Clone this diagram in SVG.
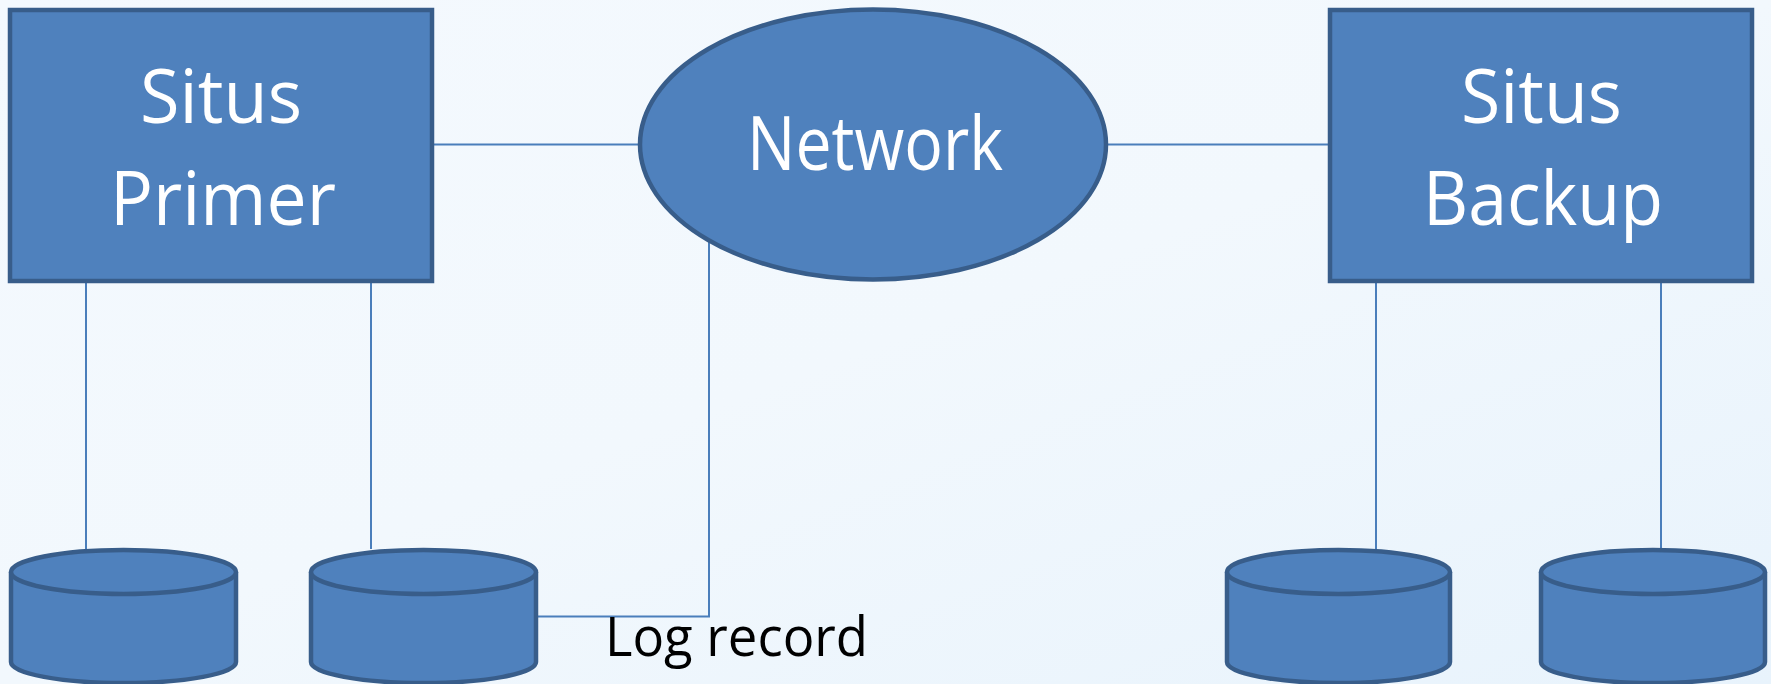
<svg xmlns="http://www.w3.org/2000/svg" width="1771" height="684" viewBox="0 0 1771 684">
  <defs>
    <linearGradient id="bg" x1="0" y1="0" x2="1" y2="1">
      <stop offset="0" stop-color="#f4f9fe"/>
      <stop offset="0.5" stop-color="#f2f8fd"/>
      <stop offset="1" stop-color="#e8f3fc"/>
    </linearGradient>
    <style>
      .shape { fill: #4f81bd; stroke: #385d8a; stroke-width: 4.5; }
      .conn { fill: none; stroke: #4a7ebb; stroke-width: 2; }
      .lbl { font-family: "Open Sans", "Liberation Sans", sans-serif; fill: #ffffff; font-size: 75px; text-anchor: middle; }
      .cap { font-family: "Open Sans", "Liberation Sans", sans-serif; fill: #000000; font-size: 55px; }
    </style>
  </defs>
  <rect x="0" y="0" width="1771" height="684" fill="url(#bg)"/>

  <g id="connectors">
    <line class="conn" x1="432" y1="144.5" x2="641" y2="144.5"/>
    <line class="conn" x1="1105" y1="144.5" x2="1329" y2="144.5"/>
    <line class="conn" x1="86" y1="281" x2="86" y2="549"/>
    <line class="conn" x1="371" y1="281" x2="371" y2="549"/>
    <line class="conn" x1="1376" y1="281" x2="1376" y2="549"/>
    <line class="conn" x1="1661" y1="281" x2="1661" y2="549"/>
    <polyline class="conn" points="709,240 709,616.5 538,616.5"/>
  </g>

  <g id="situs-primer">
    <rect class="shape" x="10" y="10" width="422" height="271"/>
    <text class="lbl" x="221" y="123" textLength="162" lengthAdjust="spacingAndGlyphs">Situs</text>
    <text class="lbl" x="223" y="225" textLength="226" lengthAdjust="spacingAndGlyphs">Primer</text>
  </g>

  <g id="network">
    <ellipse class="shape" cx="873" cy="144.5" rx="233" ry="135"/>
    <text class="lbl" x="875" y="170" textLength="256" lengthAdjust="spacingAndGlyphs">Network</text>
  </g>

  <g id="situs-backup">
    <rect class="shape" x="1330" y="10" width="422" height="271"/>
    <text class="lbl" x="1541.5" y="123" textLength="161" lengthAdjust="spacingAndGlyphs">Situs</text>
    <text class="lbl" x="1543" y="225" textLength="240" lengthAdjust="spacingAndGlyphs">Backup</text>
  </g>

  <g id="db1">
    <path class="shape" d="M11,572 L11,662 A112.5,21 0 0 0 236,662 L236,572"/>
    <ellipse class="shape" cx="123.5" cy="572" rx="112.5" ry="22"/>
  </g>
  <g id="db2">
    <path class="shape" d="M311,572 L311,662 A112.5,21 0 0 0 536,662 L536,572"/>
    <ellipse class="shape" cx="423.5" cy="572" rx="112.5" ry="22"/>
  </g>
  <g id="db3">
    <path class="shape" d="M1227,572 L1227,662 A111.5,21 0 0 0 1450,662 L1450,572"/>
    <ellipse class="shape" cx="1338.5" cy="572" rx="111.5" ry="22"/>
  </g>
  <g id="db4">
    <path class="shape" d="M1541,572 L1541,662 A112,21 0 0 0 1765,662 L1765,572"/>
    <ellipse class="shape" cx="1653" cy="572" rx="112" ry="22"/>
  </g>

  <g id="log-record">
    <text class="cap" x="605" y="656" textLength="263" lengthAdjust="spacingAndGlyphs">Log record</text>
  </g>
</svg>
